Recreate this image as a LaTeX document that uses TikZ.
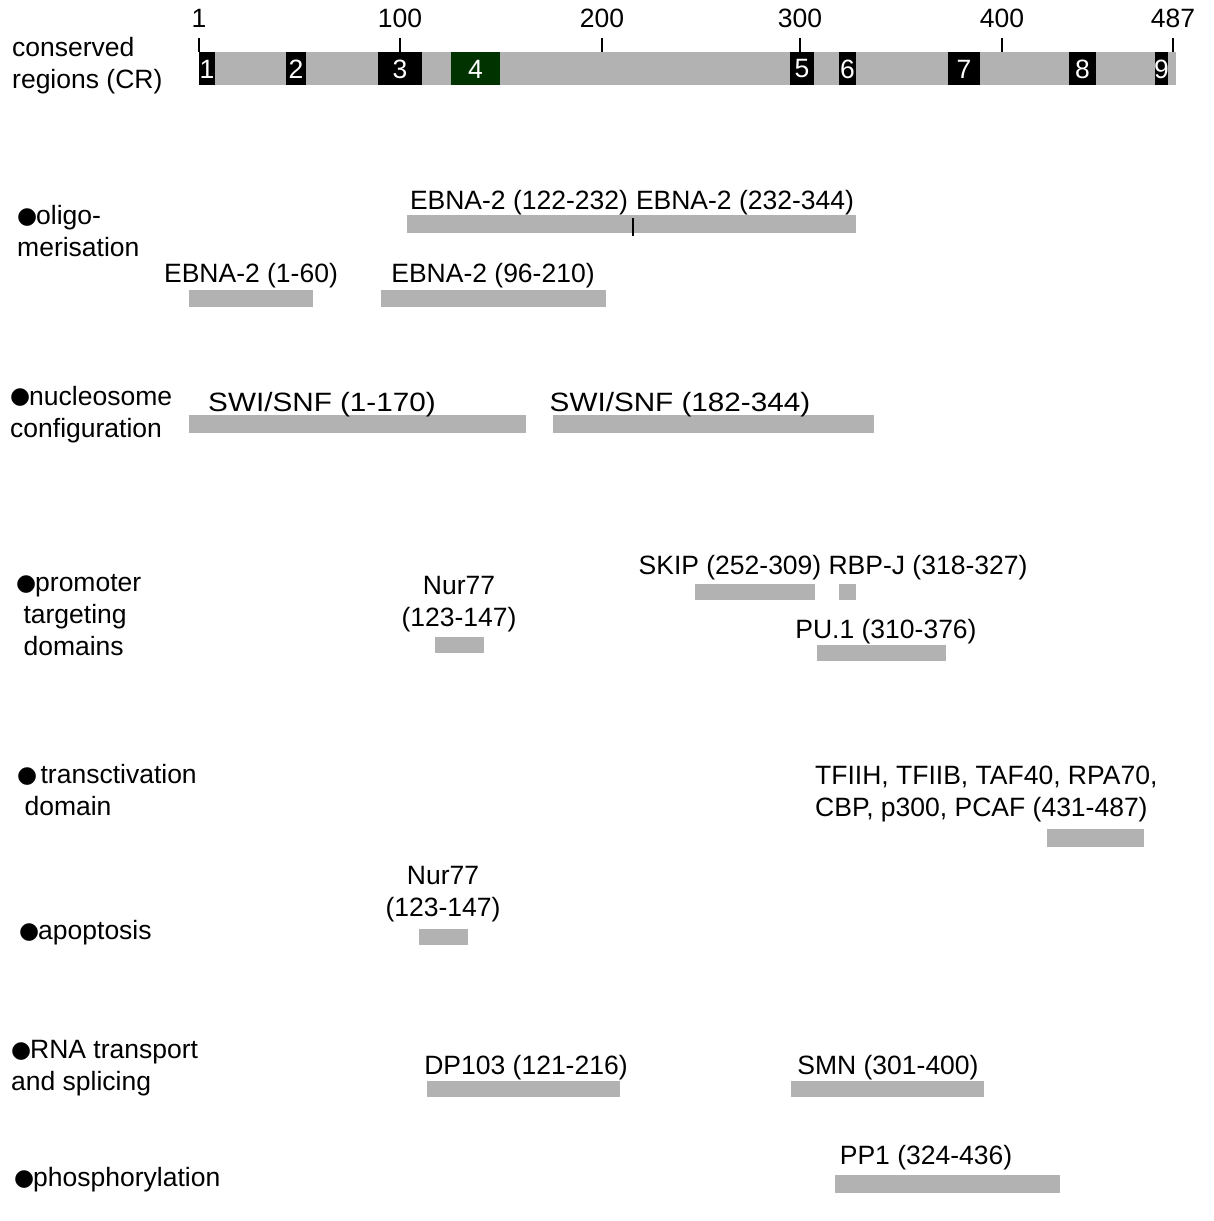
\documentclass[tikz,border=0pt]{standalone}
\usepackage{fontspec}
\setmainfont{Liberation Sans}
\newfontfamily\bulletfont{DejaVu Sans}
\newcommand{\bul}{\makebox[19pt][l]{\raisebox{1.5pt}{\bulletfont\fontsize{23}{32}\selectfont ●}}}
\newcommand{\wide}[1]{\scalebox{1.12}[1]{#1}}
\usetikzlibrary{positioning}
\definecolor{crgray}{HTML}{B2B2B2}
\definecolor{crgreen}{HTML}{003300}
\tikzstyle{lbl}=[inner sep=0pt, align=center, font=\fontsize{26.5}{32}\selectfont]
\tikzstyle{grouplbl}=[lbl, anchor=west, align=left]
\tikzstyle{nrlbl}=[lbl, text=white]
\tikzstyle{tick}=[draw, line width=1.5pt]

\begin{document}
\begin{tikzpicture}[x=1pt,y=-1pt]
    \useasboundingbox (0,0) rectangle (1213,1221);
    % The protein with its conserved regions
    \node[grouplbl] (cr) at (12,66) {conserved\\regions (CR)};
    \fill[crgray] (199,52) rectangle (1176,85);
    \foreach \xa/\xb/\n in {199/215/1, 286/306/2, 378/422/3, 790/814/5, 839/856/6, 948/980/7, 1069/1096/8, 1155/1168/9}
        {\fill[black] (\xa,52) rectangle (\xb,85);
         \node[nrlbl] (cr\n) at ({(\xa+\xb)/2},69) {\n};}
    \fill[crgreen] (451,52) rectangle (500,85);
    \node[nrlbl] (cr4) at (475.5,69) {4};

    % Scale ticks
    \foreach \x/\t in {199/1, 400/100, 602/200, 800/300, 1002/400, 1173/487}
        {\draw[tick] (\x,38) -- (\x,52);
         \node[lbl] (t\t) at (\x,18) {\t};}

    % Functions on the left
    \foreach \pos/\name/\label in {{(17,231.5)/oligo/{\bul oligo-\\merisation}}, {(10,414.5)/nucleo/{\bul nucleosome\\configuration}},
            {(16,615.5)/promoter/{\bul promoter\\\ targeting\\\ domains}}, {(17,790.5)/transact/{\bul\,transctivation\\\ domain}},
            {(19,933)/apopt/{\bul apoptosis}}, {(11,1068.5)/rna/{\bul RNA transport\\and splicing}}, {(14,1180)/phospho/{\bul phosphorylation}}}
            \node[grouplbl] (\name) at \pos {\label};

    % Binding regions
    \foreach \xa/\xb/\ya/\yb in {407/856/215/233, 189/313/290/307, 381/606/290/307, 189/526/415/433, 553/874/415/433,
            435/484/637/653, 695/815/584/600, 839/856/584/600, 817/946/645/661, 1047/1144/829/847,
            419/468/929/945, 427/620/1081/1097, 791/984/1081/1097, 835/1060/1175/1193}
        \fill[crgray] (\xa,\ya) rectangle (\xb,\yb);
    \draw[tick] (633,218) -- (633,236);

    % Binding partners
    \foreach \pos/\name/\label in {{(519,203)/ebnaA/EBNA-2 (122-232)}, {(745,203)/ebnaB/EBNA-2 (232-344)},
            {(251,276)/ebnaC/EBNA-2 (1-60)}, {(493,276)/ebnaD/EBNA-2 (96-210)},
            {(322,405)/swiA/{\wide{SWI/SNF (1-170)}}}, {(680,405)/swiB/{\wide{SWI/SNF (182-344)}}},
            {(459,604)/nurA/{Nur77\\(123-147)}}, {(730,568)/skip/SKIP (252-309)}, {(928,568)/rbpj/RBP-J (318-327)},
            {(886,632)/pu/PU.1 (310-376)}, {(443,894)/nurB/{Nur77\\(123-147)}},
            {(526,1068)/dp/DP103 (121-216)}, {(888,1068)/smn/SMN (301-400)}, {(926,1158)/pp/PP1 (324-436)}}
            \node[lbl] (\name) at \pos {\label};
    \node[grouplbl] (tf) at (815,793.5) {TFIIH, TFIIB, TAF40, RPA70,\\CBP, p300, PCAF (431-487)};
\end{tikzpicture}
\end{document}
